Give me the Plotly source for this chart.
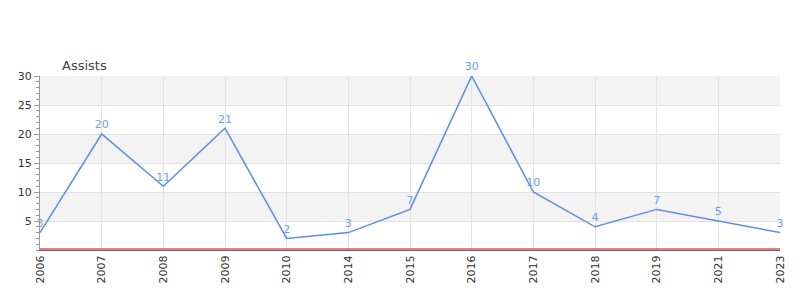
import plotly.graph_objects as go

years = ["2006", "2007", "2008", "2009", "2010", "2014", "2015", "2016", "2017", "2018", "2019", "2021", "2023"]
assists = [3, 20, 11, 21, 2, 3, 7, 30, 10, 4, 7, 5, 3]
band_starts = [5, 15, 25]

fig = go.Figure()
fig.add_trace(go.Scatter(
    x=years, y=assists, mode="lines+markers+text",
    text=[str(v) for v in assists], textposition="top center",
    textfont=dict(family="DejaVu Sans", size=11, color="#6d9eeb"),
    line=dict(color="#5b8def", width=1.5),
    marker=dict(size=3, opacity=0, color="#5b8def"),
    cliponaxis=False, hoverinfo="x+y",
))

shapes = []
for s in band_starts:
    shapes.append(dict(type="rect", xref="paper", yref="y", x0=0, x1=1, y0=s, y1=s + 5,
                       fillcolor="#f3f3f3", line=dict(width=0), layer="below"))
shapes.append(dict(type="line", xref="paper", yref="y", ysizemode="pixel", yanchor=0,
                   x0=0, x1=1, y0=1, y1=1,
                   line=dict(color="#dd0000", width=1.2), layer="above"))

fig.update_layout(
    width=800, height=300,
    margin=dict(l=40, r=20, t=76, b=50),
    paper_bgcolor="white", plot_bgcolor="white",
    showlegend=False,
    shapes=shapes,
    font=dict(family="DejaVu Sans", size=11, color="#333"),
    annotations=[dict(text="Assists", xref="paper", yref="paper", x=0.027, y=1.0,
                      xanchor="left", yanchor="bottom", yshift=1, showarrow=False,
                      font=dict(family="DejaVu Sans", size=13, color="#444"))],
    xaxis=dict(type="category", tickangle=-90, showgrid=True, gridcolor="#e2e2e2",
               showline=True, linecolor="#666", linewidth=1, ticks="", range=[0, 12],
               tickfont=dict(size=11, color="#333")),
    yaxis=dict(range=[0, 30], dtick=5, tick0=0, showgrid=True, gridcolor="#e2e2e2",
               showline=True, linecolor="#999", linewidth=1, ticks="outside", ticklen=5,
               tickcolor="#999", zeroline=False, tickfont=dict(size=11, color="#333"),
               tickvals=[5, 10, 15, 20, 25, 30],
               minor=dict(dtick=1, ticks="outside", ticklen=3, tickcolor="#999", showgrid=False)),
)
fig.write_html("out.html")
